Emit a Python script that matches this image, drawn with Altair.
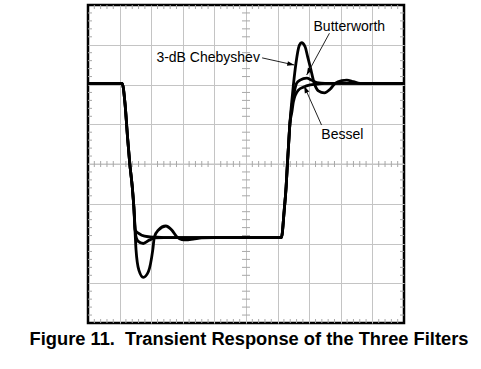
import math
import altair as alt
import pandas as pd

# Scope-style screen: 10 horizontal divisions, 8 vertical divisions centred on 0
W, H = 316, 318
X_DOM = [0, 10]
Y_DOM = [-4, 4]
PX_X = W / (X_DOM[1] - X_DOM[0])
PX_Y = H / (Y_DOM[1] - Y_DOM[0])

HIGH = 2.03
LOW = -1.85

# Shared part of every trace: high level, falling edge, low level, rising edge
fall_x = [0.0, 1.08, 1.17, 1.25, 1.32, 1.40, 1.45]
fall_y = [HIGH, HIGH, 1.53, 0.69, 0.02, -0.57, -1.07]
rise_x = [6.12, 6.21, 6.27, 6.31, 6.35, 6.39]
rise_y = [LOW, -1.16, -0.57, 0.0, 0.52, 1.02]

# Per-filter settling after each edge
cheb_fall_x = [1.52, 1.61, 1.75, 1.91, 2.05, 2.10, 2.23, 2.46, 2.65, 2.81, 2.97, 3.09, 3.33, 3.60, 4.0]
cheb_fall_y = [-2.16, -2.67, -2.85, -2.71, -2.16, -1.84, -1.66, -1.56, -1.66, -1.83, -1.90, -1.91, -1.89, -1.86, LOW]
cheb_rise_x = [6.44, 6.50, 6.58, 6.69, 6.76, 6.87, 6.95, 7.03, 7.16, 7.29, 7.48, 7.66, 7.82, 8.03, 8.19, 8.40, 8.61, 10.0]
cheb_rise_y = [1.50, 1.99, 2.53, 2.99, 3.05, 2.95, 2.70, 2.45, 2.03, 1.84, 1.79, 1.88, 2.03, 2.10, 2.11, 2.07, HIGH, HIGH]

butt_fall_x = [1.51, 1.58, 1.75, 1.93, 2.12, 2.40, 4.0]
butt_fall_y = [-1.79, -1.94, -2.00, -1.92, -1.86, LOW, LOW]
butt_rise_x = [6.45, 6.50, 6.60, 6.71, 6.92, 7.08, 7.24, 7.50, 10.0]
butt_rise_y = [1.45, 1.69, 2.03, 2.11, 2.16, 2.11, 2.05, HIGH, HIGH]

bess_fall_x = [1.49, 1.59, 1.70, 1.91, 2.12, 2.40, 4.0]
bess_fall_y = [-1.66, -1.74, -1.79, -1.83, -1.84, LOW, LOW]
bess_rise_x = [6.45, 6.50, 6.66, 6.81, 7.03, 7.24, 7.50, 10.0]
bess_rise_y = [1.30, 1.57, 1.86, 1.93, 1.99, 2.01, HIGH, HIGH]

filters = ["3-dB Chebyshev", "Butterworth", "Bessel"]
tails = {
    "3-dB Chebyshev": (cheb_fall_x, cheb_fall_y, cheb_rise_x, cheb_rise_y),
    "Butterworth": (butt_fall_x, butt_fall_y, butt_rise_x, butt_rise_y),
    "Bessel": (bess_fall_x, bess_fall_y, bess_rise_x, bess_rise_y),
}

rows = []
for name in filters:
    fx, fy, rx, ry = tails[name]
    xs = fall_x + fx + rise_x + rx
    ys = fall_y + fy + rise_y + ry
    rows += [{"filter": name, "t": x, "v": y} for x, y in zip(xs, ys)]
curves = pd.DataFrame(rows)

# Callouts: label position and arrow from label to trace
label_text = ["Butterworth", "3-dB Chebyshev", "Bessel"]
label_x = [8.27, 5.44, 8.05]
label_y = [3.45, 2.66, 0.73]
label_align = ["center", "right", "center"]
arrow_x1 = [7.64, 5.51, 7.39]
arrow_y1 = [3.29, 2.67, 0.98]
arrow_x2 = [6.92, 6.53, 6.84]
arrow_y2 = [2.24, 2.49, 1.96]


def head_angle(x1, y1, x2, y2):
    dx = (x2 - x1) * PX_X
    dy = -(y2 - y1) * PX_Y
    return math.degrees(math.atan2(dx, -dy)) % 360


callouts = pd.DataFrame({
    "label": label_text, "lx": label_x, "ly": label_y, "align": label_align,
    "x1": arrow_x1, "y1": arrow_y1, "x2": arrow_x2, "y2": arrow_y2,
    "angle": [head_angle(*a) for a in zip(arrow_x1, arrow_y1, arrow_x2, arrow_y2)],
})

# Minor graticule ticks, five per division
minor_x = pd.DataFrame({"t": [i / 5 for i in range(1, 50) if i % 5]})
minor_y = pd.DataFrame({"v": [i / 5 - 4 for i in range(1, 40) if i % 5]})

FONT = "Liberation Sans"
GRID = "#c4c4c4"
TICK = "#a8a8a8"

x_scale = alt.Scale(domain=X_DOM, nice=False, zero=False)
y_scale = alt.Scale(domain=Y_DOM, nice=False, zero=False)
# interior division lines only, so the frame stays solid
x_axis = alt.Axis(values=list(range(1, 10)), grid=True, labels=False, ticks=False,
                  domain=False, title=None, gridColor=GRID, gridWidth=1)
y_axis = alt.Axis(values=list(range(-3, 4)), grid=True, labels=False, ticks=False,
                  domain=False, title=None, gridColor=GRID, gridWidth=1)


def X(field):
    return alt.X(field, type="quantitative", scale=x_scale, axis=x_axis)


def Y(field):
    return alt.Y(field, type="quantitative", scale=y_scale, axis=y_axis)


def xtick(y0, y1):
    return alt.Chart(minor_x).mark_rule(color=TICK, strokeWidth=1).encode(
        x=X("t"), y=alt.value(y0), y2=alt.value(y1))


def ytick(x0, x1):
    return alt.Chart(minor_y).mark_rule(color=TICK, strokeWidth=1).encode(
        y=Y("v"), x=alt.value(x0), x2=alt.value(x1))


center_lines = alt.Chart(pd.DataFrame({"t": [5], "v": [0]}))
h_center = center_lines.mark_rule(color=GRID, strokeWidth=1).encode(
    y=Y("v"), x=alt.value(0), x2=alt.value(W))

ticks = (xtick(0, 4) + xtick(H, H - 4) + xtick(H / 2 - 3, H / 2 + 3)
         + ytick(0, 4) + ytick(W, W - 4) + ytick(W / 2 - 4, W / 2 + 4))

traces = alt.Chart(curves).mark_line(
    interpolate="monotone", color="black", strokeWidth=2.8, clip=True
).encode(x=X("t"), y=Y("v"), detail="filter:N")

ann = alt.Chart(callouts)
shafts = ann.mark_rule(color="#222", strokeWidth=1).encode(
    x=X("x1"), y=Y("y1"), x2="x2", y2="y2")
heads = ann.mark_point(
    shape="M0,0L-0.34,1L0.34,1Z", filled=True, color="black", opacity=1,
    size=200, strokeWidth=0
).encode(x=X("x2"), y=Y("y2"), angle=alt.Angle("angle:Q", scale=None))
labels_c = ann.transform_filter(alt.datum.align == "center").mark_text(
    font=FONT, fontSize=14, color="black", align="center", baseline="middle"
).encode(x=X("lx"), y=Y("ly"), text="label")
labels_r = ann.transform_filter(alt.datum.align == "right").mark_text(
    font=FONT, fontSize=14, color="black", align="right", baseline="middle"
).encode(x=X("lx"), y=Y("ly"), text="label")

chart = alt.layer(
    h_center, ticks, traces, shafts, heads, labels_c, labels_r
).properties(
    width=W, height=H,
    autosize=alt.AutoSizeParams(type="none"),
    padding={"left": 88, "top": 5, "right": 77, "bottom": 46},
    title=alt.TitleParams(
        "Figure 11.\u00a0 Transient Response of the Three Filters",
        orient="bottom", anchor="middle", font=FONT, fontSize=18.3,
        fontWeight="bold", color="black", offset=7, dx=3,
    ),
).configure_view(
    stroke="#000", strokeWidth=2.5
)

chart.save("out.html", embed_options={"renderer": "svg", "actions": False})
